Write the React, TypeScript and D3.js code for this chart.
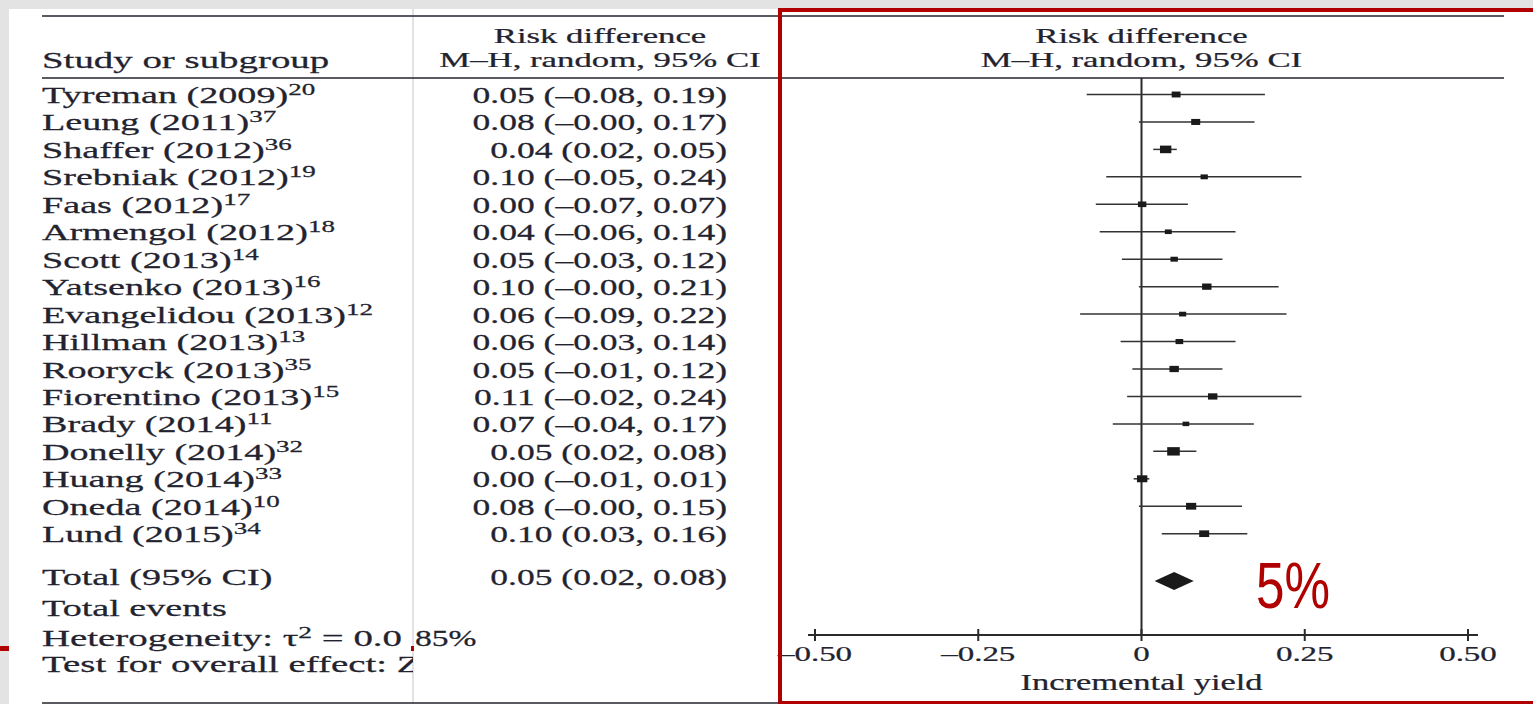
import React from "react";
import * as d3 from "d3";

const studies = [
  "Tyreman (2009)", "Leung (2011)", "Shaffer (2012)", "Srebniak (2012)", "Faas (2012)",
  "Armengol (2012)", "Scott (2013)", "Yatsenko (2013)", "Evangelidou (2013)", "Hillman (2013)",
  "Rooryck (2013)", "Fiorentino (2013)", "Brady (2014)", "Donelly (2014)", "Huang (2014)",
  "Oneda (2014)", "Lund (2015)",
];
const refs = ["20", "37", "36", "19", "17", "18", "14", "16", "12", "13", "35", "15", "11", "32", "33", "10", "34"];
const estimates = [0.053, 0.083, 0.037, 0.096, 0.001, 0.041, 0.05, 0.1, 0.063, 0.058, 0.05, 0.109, 0.068, 0.049, 0.001, 0.076, 0.096];
const lower = [-0.084, -0.004, 0.018, -0.054, -0.07, -0.064, -0.03, -0.004, -0.094, -0.032, -0.014, -0.022, -0.044, 0.018, -0.012, -0.004, 0.031];
const upper = [0.189, 0.173, 0.054, 0.245, 0.071, 0.144, 0.124, 0.21, 0.222, 0.144, 0.124, 0.245, 0.172, 0.084, 0.012, 0.154, 0.162];
const weights = [5.6, 5.8, 9.2, 3.8, 5.0, 3.4, 3.9, 6.3, 3.6, 4.2, 6.3, 6.3, 3.2, 11.3, 7.7, 7.4, 7.1];
const total = { est: 0.05, lo: 0.02, hi: 0.08 };
const axisTicks = [-0.5, -0.25, 0, 0.25, 0.5];
const headerLeft = "Study or subgroup";
const headerRd1 = "Risk difference";
const headerRd2 = "M\u2013H, random, 95% CI";
const axisTitle = "Incremental yield";
const footerLines = ["Total (95% CI)", "Total events", "Heterogeneity: \u03c4", "Test for overall effect: Z"];
const overlayText = "5%";

const fmt = (v: number) => (v < 0 ? "\u2013" : "") + Math.abs(v).toFixed(2);
const tickFmt = (v: number) => (v === 0 ? "0" : fmt(v));
const ciText = (e: number, l: number, h: number) => `${fmt(e)} (${fmt(l)}, ${fmt(h)})`;

const INK = "#23232f";
const RED = "#b00000";
const SERIF = "'Liberation Serif', 'Times New Roman', serif";

function T(props: any) {
  const { x, y, sx = 1.5, size = 24, anchor = "start", fill = INK, children, family = SERIF } = props;
  return (
    <text
      transform={`translate(${x},${y}) scale(${sx},1)`}
      textAnchor={anchor}
      fontSize={size}
      fontFamily={family}
      fill={fill}
      stroke={fill}
      strokeWidth={0.25}
    >
      {children}
    </text>
  );
}

export default function App() {
  const W = 1533, H = 704;
  const x = d3.scaleLinear().domain([-0.5, 0.5]).range([815, 1468]);
  const y = d3.scalePoint<string>().domain(studies).range([94.5, 533.7]);
  const size = d3.scaleSqrt().domain([0, 11.3]).range([0, 8.4]);
  const totalY = 581;
  const axisY = 635;
  const labelSx = 1.59;
  const numSx = 1.48;

  const diamond = d3.line()([
    [x(total.lo), totalY],
    [x(total.est), totalY - 9],
    [x(total.hi), totalY],
    [x(total.est), totalY + 9],
  ]) + "Z";

  return (
    <svg width={W} height={H} style={{ position: "absolute", left: 0, top: 0 }}>
      <defs>
        <clipPath id="leftclip">
          <rect x={0} y={0} width={413} height={H} />
        </clipPath>
      </defs>
      <rect x={0} y={0} width={W} height={H} fill="#e3e3e3" />
      <rect x={0} y={646} width={12} height={5} fill={RED} />
      <rect x={9} y={9} width={W - 9} height={H - 9} fill="#ffffff" />
      <line x1={413} x2={413} y1={9} y2={H} stroke="#cfcfcf" strokeWidth={1.2} />
      <rect x={411} y={646} width={3} height={5} fill={RED} />

      {/* table rules */}
      <line x1={42} x2={1504} y1={16} y2={16} stroke={INK} strokeWidth={1.6} />
      <line x1={42} x2={1504} y1={78} y2={78} stroke={INK} strokeWidth={1.6} />
      <line x1={42} x2={1504} y1={703} y2={703} stroke={INK} strokeWidth={1.6} />

      {/* headers */}
      <T x={42} y={68} sx={1.62}>{headerLeft}</T>
      <T x={600} y={43} sx={1.58} size={22} anchor="middle">{headerRd1}</T>
      <T x={600} y={67} sx={1.58} size={22} anchor="middle">{headerRd2}</T>
      <T x={1141.5} y={43} sx={1.58} size={22} anchor="middle">{headerRd1}</T>
      <T x={1141.5} y={67} sx={1.58} size={22} anchor="middle">{headerRd2}</T>

      {/* study rows */}
      {studies.map((s, i) => (
        <g key={s}>
          <T x={42} y={(y(s) as number) + 8.5} sx={labelSx}>
            {s}
            <tspan fontSize={17} dy={-8}>{refs[i]}</tspan>
          </T>
          <T x={727} y={(y(s) as number) + 8.5} sx={numSx} anchor="end">
            {ciText(estimates[i], lower[i], upper[i])}
          </T>
        </g>
      ))}

      {/* footer */}
      <T x={42} y={585} sx={labelSx}>{footerLines[0]}</T>
      <T x={727} y={585} sx={numSx} anchor="end">{ciText(total.est, total.lo, total.hi)}</T>
      <T x={42} y={616} sx={labelSx}>{footerLines[1]}</T>
      <g clipPath="url(#leftclip)">
        <T x={42} y={646} sx={1.62}>
          {footerLines[2]}
          <tspan fontSize={17} dy={-8}>2</tspan>
          <tspan dy={8}>{" = 0.0"}</tspan>
        </T>
        <T x={42} y={672} sx={1.62}>{footerLines[3]}</T>
      </g>
      <T x={415} y={646} sx={1.4}>85%</T>

      {/* plot */}
      <line x1={x(0)} x2={x(0)} y1={78} y2={axisY} stroke="#2a2a2a" strokeWidth={2} />
      {studies.map((s, i) => {
        const cy = y(s) as number;
        const h = size(weights[i]);
        const w = h * 1.5;
        return (
          <g key={s}>
            <line x1={x(lower[i])} x2={x(upper[i])} y1={cy} y2={cy} stroke="#333" strokeWidth={1.5} />
            <rect x={x(estimates[i]) - w / 2} y={cy - h / 2} width={w} height={h} fill="#1a1a1a" />
          </g>
        );
      })}
      <path d={diamond} fill="#1a1a1a" />

      {/* axis */}
      <line x1={x.range()[0] - 7} x2={x.range()[1] + 10} y1={axisY} y2={axisY} stroke="#2a2a2a" strokeWidth={2} />
      {axisTicks.map((t) => (
        <g key={t}>
          <line x1={x(t)} x2={x(t)} y1={axisY - 6} y2={axisY + 6} stroke="#2a2a2a" strokeWidth={2} />
          <T x={x(t)} y={661} sx={1.5} size={22} anchor="middle">{tickFmt(t)}</T>
        </g>
      ))}
      <T x={1141.5} y={690} sx={1.5} size={23} anchor="middle">{axisTitle}</T>

      {/* overlay */}
      <rect x={780} y={10} width={800} height={693} fill="none" stroke={RED} strokeWidth={4} />
      <text transform="translate(1256,608) scale(0.8,1)" fontSize={64} fill={RED}
        fontFamily="'Liberation Sans', Arial, sans-serif">
        {overlayText}
      </text>
    </svg>
  );
}
